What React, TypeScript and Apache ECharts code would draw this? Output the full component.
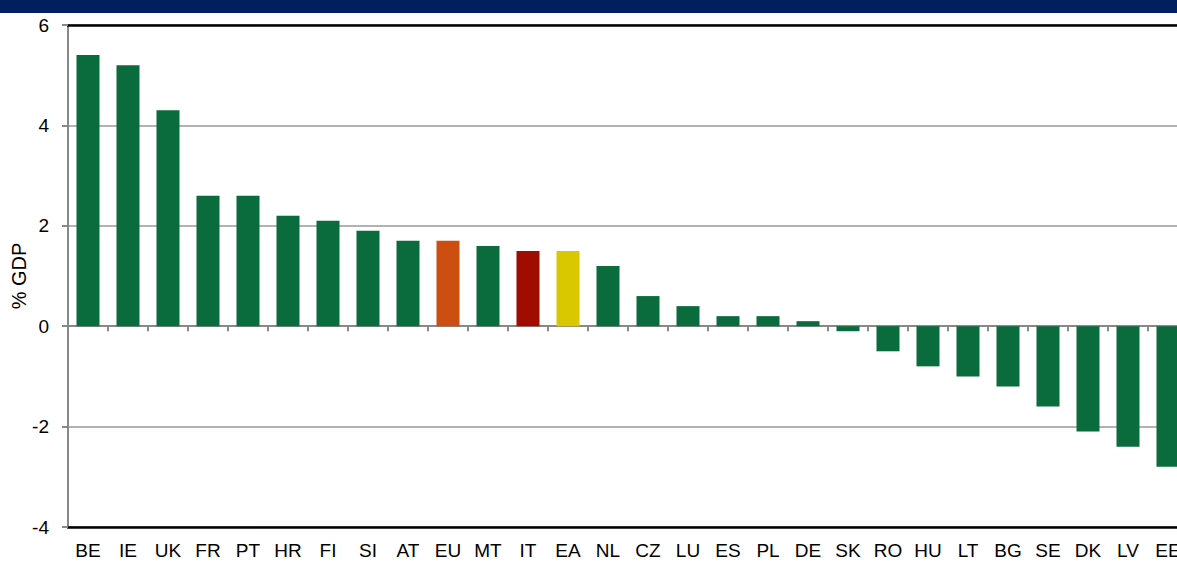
import React, { useEffect, useRef } from "react";
import * as echarts from "echarts";

const categories = ["BE","IE","UK","FR","PT","HR","FI","SI","AT","EU","MT","IT","EA","NL","CZ","LU","ES","PL","DE","SK","RO","HU","LT","BG","SE","DK","LV","EE"];
const values = [5.4,5.2,4.3,2.6,2.6,2.2,2.1,1.9,1.7,1.7,1.6,1.5,1.5,1.2,0.6,0.4,0.2,0.2,0.1,-0.1,-0.5,-0.8,-1.0,-1.2,-1.6,-2.1,-2.4,-2.8];
const highlight: Record<string, string> = { EU: "#CC4E10", IT: "#A00C00", EA: "#D9C800" };
const baseColor = "#0A6B3D";
const yTicks = { min: -4, max: 6, interval: 2 };
const yName = "% GDP";

export default function App() {
  const ref = useRef<HTMLDivElement>(null);
  useEffect(() => {
    if (!ref.current) return;
    const chart = echarts.init(ref.current, null, { renderer: "svg" });
    const font = "Liberation Sans, Arial, sans-serif";
    chart.setOption({
      animation: false,
      backgroundColor: "#ffffff",
      graphic: [
        { type: "rect", shape: { x: 0, y: 0, width: 1200, height: 13 }, style: { fill: "#001F5F" }, silent: true },
      ],
      grid: { left: 68, top: 25, bottom: 34, right: 0, containLabel: false, outerBoundsMode: "none" },
      xAxis: [
        {
          type: "category",
          data: categories,
          position: "bottom",
          axisLine: { onZero: false, lineStyle: { color: "#000", width: 2.5 } },
          axisTick: { show: false },
          axisLabel: { color: "#000", fontSize: 19, fontFamily: font, margin: 14, interval: 0 },
        },
        {
          type: "category",
          data: categories,
          position: "bottom",
          axisLine: { onZero: true, lineStyle: { color: "#888", width: 2 } },
          axisTick: { show: true, length: 5, lineStyle: { color: "#888", width: 2 } },
          axisLabel: { show: false },
        },
        {
          type: "category",
          data: categories,
          position: "top",
          axisLine: { onZero: false, lineStyle: { color: "#000", width: 2.5 } },
          axisTick: { show: false },
          axisLabel: { show: false },
        },
      ],
      yAxis: {
        type: "value",
        min: yTicks.min,
        max: yTicks.max,
        interval: yTicks.interval,
        name: yName,
        nameLocation: "middle",
        nameGap: 39,
        nameMoveOverlap: false,
        nameTextStyle: { color: "#000", fontSize: 20, fontFamily: font },
        axisLine: { show: true, onZero: false, lineStyle: { color: "#888", width: 2 } },
        axisTick: { show: true, length: 6, lineStyle: { color: "#888", width: 2 } },
        axisLabel: { color: "#000", fontSize: 19, fontFamily: font, margin: 19 },
        splitLine: { show: true, lineStyle: { color: "#999", width: 1.5 } },
      },
      series: [
        {
          type: "bar",
          xAxisIndex: 0,
          barWidth: 23,
          data: values.map((v, i) => ({
            value: v,
            itemStyle: { color: highlight[categories[i]] || baseColor },
          })),
        },
      ],
    });
    return () => chart.dispose();
  }, []);
  return (
    <div style={{ position: "fixed", left: 0, top: 0, width: 1177, height: 561, overflow: "hidden" }}>
      <div ref={ref} style={{ width: 1188, height: 561 }} />
    </div>
  );
}
